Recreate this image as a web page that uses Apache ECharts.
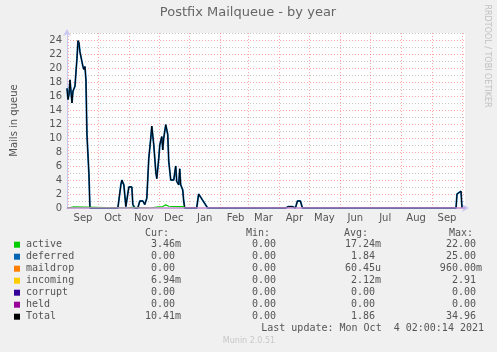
<!DOCTYPE html>
<html>
<head>
<meta charset="utf-8">
<script src="https://cdn.jsdelivr.net/npm/echarts@6/dist/echarts.min.js"></script>
<style>
html, body { margin: 0; padding: 0; background: #f0f0f0; }
#main { width: 497px; height: 352px; }
</style>
</head>
<body>
<div id="main"></div>
<script>
// one category per day, 2020-08-31 .. 2021-10-04
var days = [];
for (var i = 0; i < 400; i++) {
    days.push(new Date(Date.UTC(2020, 7, 31) + i * 86400000).toISOString().slice(0, 10));
}
var monthNames = ['Jan','Feb','Mar','Apr','May','Jun','Jul','Aug','Sep','Oct','Nov','Dec'];

var totalDates = ['2020-08-31','2020-09-01','2020-09-02','2020-09-03','2020-09-05','2020-09-06','2020-09-08','2020-09-10','2020-09-11','2020-09-12','2020-09-13','2020-09-14','2020-09-16','2020-09-17','2020-09-18','2020-09-19','2020-09-20','2020-09-22','2020-09-23',
    '2020-10-21','2020-10-24','2020-10-25','2020-10-27','2020-10-29','2020-10-31','2020-11-01','2020-11-04','2020-11-05','2020-11-07','2020-11-10','2020-11-12','2020-11-15','2020-11-17','2020-11-19','2020-11-21','2020-11-23','2020-11-24','2020-11-26','2020-11-28','2020-11-29','2020-12-01','2020-12-02','2020-12-04','2020-12-05','2020-12-06','2020-12-08','2020-12-10','2020-12-11','2020-12-13','2020-12-16','2020-12-18','2020-12-19','2020-12-21','2020-12-22','2020-12-23','2020-12-25','2020-12-26','2020-12-27',
    '2021-01-08','2021-01-10','2021-01-12','2021-01-14','2021-01-16','2021-01-19',
    '2021-04-07','2021-04-08','2021-04-10','2021-04-12','2021-04-14','2021-04-17','2021-04-19','2021-04-22','2021-04-24',
    '2021-09-25','2021-09-26','2021-09-28','2021-09-30','2021-10-01'];
var totalValues = [17.1,15.5,16.2,18.3,15.0,16.7,17.4,21.4,23.9,23.6,22.3,22.1,20.2,19.8,20.2,18.3,10.5,4.8,0,
    0,3.3,4.0,3.3,0.2,0,3.0,3.0,0.5,0,0,1.0,1.0,0.5,1.4,7.1,10,11.7,9,5.2,4.2,7.1,9,10.2,8.3,10,11.9,10.5,6.7,4.0,4.0,6.0,3.8,3.3,5.6,3.3,2.6,1.0,0,
    0,2.0,2.0,1.1,1.1,0,
    0,0.2,0.2,0,0.2,0,1.0,1.0,0,
    0,2.0,2.0,2.4,0];
// deferred sits right under the total line
var deferredDates = totalDates;
var deferredValues = totalValues;

var activeDates = ['2020-08-31','2020-09-01','2020-09-02','2020-09-07','2020-09-08','2020-10-30','2020-10-31','2020-11-04','2020-11-05','2020-11-22','2020-11-23','2020-12-01','2020-12-05','2020-12-08','2020-12-11','2020-12-20','2020-12-26','2020-12-27'];
var activeValues = [0,0,0.15,0.15,0,0,0.1,0.1,0,0,0.15,0.15,0.2,0.45,0.25,0.2,0.2,0];

var heldDates = ['2020-08-31','2021-10-04'];
var heldValues = [0,0];

// legend table
var legendNames = ['active','deferred','maildrop','incoming','corrupt','held','Total'];
var legendColors = ['#00cc00','#0066b3','#ff8000','#ffcc00','#330099','#990099','#000000'];
var curVals = ['3.46m','0.00','0.00','6.94m','0.00','0.00','10.41m'];
var minVals = ['0.00','0.00','0.00','0.00','0.00','0.00','0.00'];
var avgVals = ['17.24m','1.84','60.45u','2.12m','0.00','0.00','1.86'];
var maxVals = ['22.00','25.00','960.00m','2.91','0.00','0.00','34.96'];

function pairs(d, v) {
    return d.map(function(x, i) { return [x, v[i]]; });
}
function unitPad(s) {
    return /[0-9]$/.test(s) ? s + ' ' : s;
}

var mono = '10px "DejaVu Sans Mono"';
var txtColor = '#555';
var graphics = [
    { type: 'text', x: 248, y: 13, style: { text: 'Postfix Mailqueue - by year', font: '13px "DejaVu Sans"', fill: '#666', align: 'center', verticalAlign: 'middle' } },
    { type: 'text', x: 487, y: 56, rotation: -Math.PI / 2, style: { text: 'RRDTOOL / TOBI OETIKER', font: '8px "DejaVu Sans"', fill: '#c0c0c0', align: 'center', verticalAlign: 'middle' } },
    { type: 'text', x: 145, y: 233, style: { text: 'Cur:', font: mono, fill: txtColor, verticalAlign: 'middle' } },
    { type: 'text', x: 246, y: 233, style: { text: 'Min:', font: mono, fill: txtColor, verticalAlign: 'middle' } },
    { type: 'text', x: 344, y: 233, style: { text: 'Avg:', font: mono, fill: txtColor, verticalAlign: 'middle' } },
    { type: 'text', x: 449, y: 233, style: { text: 'Max:', font: mono, fill: txtColor, verticalAlign: 'middle' } },
    { type: 'text', x: 484, y: 328.5, style: { text: 'Last update: Mon Oct  4 02:00:14 2021', font: mono, fill: txtColor, align: 'right', verticalAlign: 'middle' } },
    { type: 'text', x: 249, y: 341, style: { text: 'Munin 2.0.51', font: '8px "DejaVu Sans"', fill: '#c8c8c8', align: 'center', verticalAlign: 'middle' } }
];
legendNames.forEach(function(n, i) {
    var y = 244.7 + 12 * i;
    graphics.push({ type: 'rect', shape: { x: 14, y: y - 3, width: 6, height: 6 }, style: { fill: legendColors[i] } });
    graphics.push({ type: 'text', x: 26, y: y, style: { text: n, font: mono, fill: txtColor, verticalAlign: 'middle' } });
    graphics.push({ type: 'text', x: 181, y: y, style: { text: unitPad(curVals[i]), font: mono, fill: txtColor, align: 'right', verticalAlign: 'middle' } });
    graphics.push({ type: 'text', x: 282, y: y, style: { text: unitPad(minVals[i]), font: mono, fill: txtColor, align: 'right', verticalAlign: 'middle' } });
    graphics.push({ type: 'text', x: 381, y: y, style: { text: unitPad(avgVals[i]), font: mono, fill: txtColor, align: 'right', verticalAlign: 'middle' } });
    graphics.push({ type: 'text', x: 482, y: y, style: { text: unitPad(maxVals[i]), font: mono, fill: txtColor, align: 'right', verticalAlign: 'middle' } });
});

var myChart = echarts.init(document.getElementById('main'));
var option = {
    backgroundColor: '#f0f0f0',
    animation: false,
    textStyle: { fontFamily: 'DejaVu Sans' },
    grid: {
        left: 67, right: 32, top: 33, bottom: 144,
        outerBoundsMode: 'none',
        containLabel: false,
        show: true, backgroundColor: '#ffffff', borderWidth: 0
    },
    xAxis: {
        type: 'category',
        data: days,
        boundaryGap: false,
        axisLine: { lineStyle: { color: '#c8c8f0' }, symbol: ['none', 'arrow'], symbolSize: [6, 7], symbolOffset: [0, 4] },
        axisTick: { show: false },
        axisLabel: {
            interval: function(idx, val) { return val.slice(8) === '16'; },
            formatter: function(val) { return monthNames[+val.slice(5, 7) - 1]; },
            color: txtColor, fontSize: 10, margin: 5
        },
        splitLine: {
            show: true,
            interval: function(idx, val) { return val.slice(8) === '01'; },
            lineStyle: { color: 'rgba(255,0,0,0.35)', type: [1, 2] }
        }
    },
    yAxis: {
        type: 'value',
        min: 0, max: 25, interval: 1,
        name: 'Mails in queue',
        nameLocation: 'middle',
        nameRotate: 90,
        nameGap: 48,
        nameTextStyle: { color: txtColor, fontSize: 10 },
        axisLine: { show: true, lineStyle: { color: '#c8c8f0' }, symbol: ['none', 'arrow'], symbolSize: [6, 7], symbolOffset: [0, 4] },
        axisTick: { show: false },
        axisLabel: {
            formatter: function(v) { return v % 2 ? '' : v; },
            color: txtColor, fontSize: 10, margin: 5
        },
        splitLine: {
            lineStyle: { color: ['rgba(255,0,0,0.35)', 'rgba(120,120,120,0.4)'], type: [1, 2] }
        }
    },
    series: [
        { name: 'deferred', type: 'line', data: pairs(deferredDates, deferredValues), showSymbol: false, lineStyle: { color: '#0066b3', width: 1.8 } },
        { name: 'Total', type: 'line', data: pairs(totalDates, totalValues), showSymbol: false, lineStyle: { color: '#000000', width: 1 } },
        { name: 'active', type: 'line', data: pairs(activeDates, activeValues), showSymbol: false, lineStyle: { color: '#00cc00', width: 1.2 } },
        { name: 'held', type: 'line', data: pairs(heldDates, heldValues), showSymbol: false, lineStyle: { color: '#cc88cc', width: 1.5 } }
    ],
    graphic: graphics
};
myChart.setOption(option);
window.onresize = myChart.resize;
</script>
</body>
</html>
